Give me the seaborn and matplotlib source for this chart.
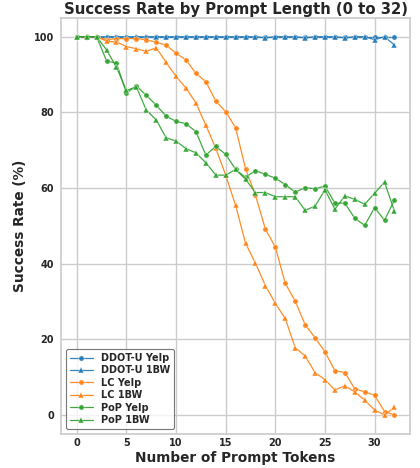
import numpy as np
import pandas as pd
import seaborn as sns
import matplotlib
matplotlib.use("Agg")
import matplotlib.pyplot as plt

tokens = list(range(33))

ddot_yelp = [100] * 33
ddot_1bw = [100, 100, 100, 100, 100, 100, 100, 100, 100, 100, 100, 100, 100, 100, 100, 100,
            100, 100, 100, 99.7, 100, 100, 100, 99.7, 100, 100, 100, 99.7, 100, 100, 99.2, 100, 97.8]

lc_yelp = [100, 100, 100, 99.2, 99.5, 99.5, 99.5, 99.2, 98.5, 97.8, 95.6, 93.9, 90.3, 88.1, 83.0, 80.2,
           75.9, 65.1, 58.1, 49.1, 44.4, 34.8, 30.1, 23.9, 20.4, 16.7, 11.7, 11.2, 6.9, 6.1, 5.2, 0.9, 0.0]
lc_1bw = [100, 100, 100, 98.8, 98.6, 97.4, 96.8, 96.1, 97.1, 93.2, 89.5, 86.4, 82.5, 76.6, 70.5, 63.4,
          55.4, 45.4, 40.1, 34.2, 29.5, 25.5, 17.8, 15.6, 11.2, 9.3, 6.6, 7.7, 6.1, 3.9, 1.3, 0.0, 2.0]

pop_yelp = [100, 100, 100, 93.6, 93.0, 85.1, 87.0, 84.5, 81.9, 79.0, 77.6, 77.0, 74.9, 68.7, 71.0, 68.9,
            64.9, 62.8, 64.6, 63.6, 62.6, 60.9, 58.9, 60.1, 59.8, 60.5, 56.0, 56.0, 52.0, 50.1, 54.8, 51.5, 56.8]
pop_1bw = [100, 100, 100, 96.5, 91.9, 85.8, 86.7, 80.6, 78.0, 73.3, 72.4, 70.4, 69.3, 66.7, 63.4, 63.4,
           64.9, 62.3, 58.8, 58.8, 57.7, 57.7, 57.7, 54.1, 55.2, 59.5, 54.4, 57.9, 57.0, 55.7, 58.6, 61.6, 53.8]

series = {
    "DDOT-U Yelp": ddot_yelp,
    "DDOT-U 1BW": ddot_1bw,
    "LC Yelp": lc_yelp,
    "LC 1BW": lc_1bw,
    "PoP Yelp": pop_yelp,
    "PoP 1BW": pop_1bw,
}
colors = {
    "DDOT-U Yelp": "#1f77b4", "DDOT-U 1BW": "#1f77b4",
    "LC Yelp": "#ff7f0e", "LC 1BW": "#ff7f0e",
    "PoP Yelp": "#2ca02c", "PoP 1BW": "#2ca02c",
}
markers = {k: ("o" if "Yelp" in k else "^") for k in series}

sns.set_theme(style="whitegrid")
plt.rcParams["font.family"] = ["DejaVu Sans"]

fig, ax = plt.subplots(figsize=(4.2, 4.68), dpi=100)

for name, vals in series.items():
    df = pd.DataFrame({"tokens": tokens, "rate": vals})
    sns.lineplot(data=df, x="tokens", y="rate", ax=ax, color=colors[name],
                 marker=markers[name], markersize=3.8, linewidth=0.9,
                 markeredgewidth=0.3, label=name, alpha=0.9)

ax.set_title("Success Rate by Prompt Length (0 to 32)", fontsize=10.7, fontweight="bold", pad=3)
ax.set_xlabel("Number of Prompt Tokens", fontsize=9.8, fontweight="bold", labelpad=2)
ax.set_ylabel("Success Rate (%)", fontsize=9.8, fontweight="bold", labelpad=5)
ax.set_xticks([0, 5, 10, 15, 20, 25, 30])
ax.set_yticks([0, 20, 40, 60, 80, 100])
for lbl in ax.get_xticklabels() + ax.get_yticklabels():
    lbl.set_fontweight("bold")
    lbl.set_fontsize(7)
ax.tick_params(axis="x", length=0, pad=3)
ax.tick_params(axis="y", length=0, pad=5)

leg = ax.legend(loc="lower left", prop={"weight": "bold", "size": 7},
                frameon=True, edgecolor="#555555", fancybox=True,
                handlelength=2.4, borderpad=0.4, labelspacing=0.25)
leg.get_frame().set_linewidth(0.8)

fig.subplots_adjust(left=0.145, right=0.977, top=0.962, bottom=0.073)
fig.savefig("out.png", dpi=100)
